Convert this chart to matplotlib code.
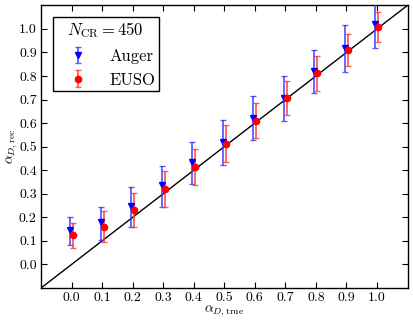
import numpy as np
import matplotlib
matplotlib.use("Agg")
import matplotlib.pyplot as plt

plt.rcParams['font.family'] = 'serif'
plt.rcParams['font.serif'] = ['cmr10', 'DejaVu Serif']
plt.rcParams['mathtext.fontset'] = 'cm'
plt.rcParams['axes.formatter.use_mathtext'] = True

alpha_true = [0.0, 0.1, 0.2, 0.3, 0.4, 0.5, 0.6, 0.7, 0.8, 0.9, 1.0]

auger_val = [0.147, 0.180, 0.250, 0.336, 0.435, 0.520, 0.623, 0.708, 0.820, 0.920, 1.023]
auger_hi = [0.201, 0.242, 0.328, 0.418, 0.521, 0.614, 0.714, 0.801, 0.909, 1.016, 1.115]
auger_lo = [0.082, 0.105, 0.159, 0.245, 0.340, 0.422, 0.527, 0.611, 0.727, 0.818, 0.920]

euso_val = [0.125, 0.159, 0.231, 0.320, 0.414, 0.512, 0.611, 0.708, 0.812, 0.912, 1.010]
euso_hi = [0.176, 0.227, 0.303, 0.398, 0.492, 0.591, 0.686, 0.778, 0.884, 0.979, 1.072]
euso_lo = [0.071, 0.095, 0.159, 0.244, 0.337, 0.433, 0.537, 0.636, 0.738, 0.843, 0.945]

ticks = [0.0, 0.1, 0.2, 0.3, 0.4, 0.5, 0.6, 0.7, 0.8, 0.9, 1.0]

fig = plt.figure(figsize=(4.13, 3.22), dpi=100)
ax = fig.add_axes([0.0993, 0.1056, 0.8874, 0.8777])

ax.plot([-0.1, 1.1], [-0.1, 1.1], color='black', lw=1.0, zorder=1)

xt = np.array(alpha_true)
av = np.array(auger_val); ae = [av - np.array(auger_lo), np.array(auger_hi) - av]
ev = np.array(euso_val); ee = [ev - np.array(euso_lo), np.array(euso_hi) - ev]

ax.errorbar(xt - 0.005, av, yerr=ae, fmt='v', color='blue', ecolor=(0.2, 0.2, 1.0, 0.8),
            ms=4.5, capsize=2.5, elinewidth=1.3, capthick=1.0, label='Auger', zorder=3)
ax.errorbar(xt + 0.005, ev, yerr=ee, fmt='o', color='red', ecolor=(1.0, 0.2, 0.2, 0.8),
            ms=4.5, capsize=2.5, elinewidth=1.3, capthick=1.0, label='EUSO', zorder=3)

ax.set_xlim(-0.1, 1.1)
ax.set_ylim(-0.1, 1.1)
ax.set_xticks(ticks)
ax.set_yticks(ticks)
ax.set_xticklabels([f"{t:.1f}" for t in ticks])
ax.set_yticklabels([f"{t:.1f}" for t in ticks])
ax.tick_params(direction='in', top=True, right=True, length=4, width=0.8, labelsize=10, pad=3)
for s in ax.spines.values():
    s.set_linewidth(1.0)

ax.set_xlabel(r'$\alpha_{D,\rm true}$', fontsize=10, labelpad=-1)
ax.set_ylabel(r'$\alpha_{D,\rm rec}$', fontsize=10)
ax.yaxis.set_label_coords(-0.06, 0.5)

leg = ax.legend(loc='upper left', title=r'$N_{\rm CR} = 450$', fontsize=12, title_fontsize=12,
                fancybox=False, edgecolor='black', framealpha=1, borderpad=0.2,
                handletextpad=0.6, handlelength=2.6, labelspacing=0.5,
                bbox_to_anchor=(0.0, 1.0), borderaxespad=0.7)
leg.get_frame().set_linewidth(1.0)

fig.savefig('out.png', dpi=100)
